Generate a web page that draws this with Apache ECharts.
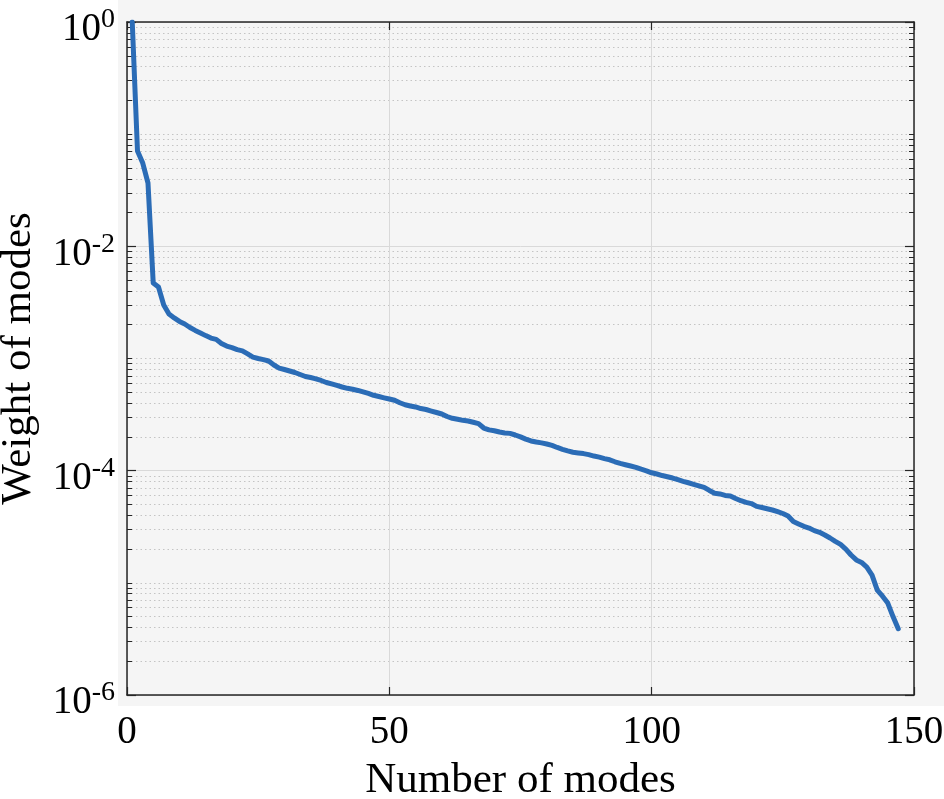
<!DOCTYPE html>
<html>
<head>
<meta charset="utf-8">
<script src="https://cdn.jsdelivr.net/npm/echarts@6/dist/echarts.min.js"></script>
<style>
  html, body { margin: 0; padding: 0; background: #fff; }
  #chart { width: 944px; height: 799px; }
</style>
</head>
<body>
<div id="chart"></div>
<script>
// weight of each mode, modes numbered 1..147
const weights = [
  1.0, 0.0708, 0.0553, 0.0367, 0.00471, 0.00434, 0.0030, 0.00249, 0.00230, 0.00214,
  0.00203, 0.00189, 0.00178, 0.00169, 0.00160, 0.00152, 0.00148, 0.00136, 0.00129, 0.00125,
  0.00120, 0.00117, 0.00110, 0.00103, 0.00100, 0.000976, 0.000950, 0.000875, 0.000822, 0.000798,
  0.000774, 0.000750, 0.000720, 0.000691, 0.000677, 0.000659, 0.000637, 0.000611, 0.000593, 0.000575,
  0.000557, 0.000542, 0.000532, 0.000519, 0.000503, 0.000488, 0.000470, 0.000458, 0.000446, 0.000435,
  0.000424, 0.000403, 0.000387, 0.000377, 0.000370, 0.000358, 0.000351, 0.000340, 0.000330, 0.000320,
  0.000304, 0.000293, 0.000287, 0.000281, 0.000277, 0.000270, 0.000263, 0.000240, 0.000231, 0.000227,
  0.000221, 0.000217, 0.000215, 0.000208, 0.000200, 0.000191, 0.000184, 0.000180, 0.000177, 0.000173,
  0.000168, 0.000161, 0.000155, 0.000150, 0.000146, 0.000144, 0.000142, 0.000139, 0.000135, 0.000132,
  0.000128, 0.000125, 0.000120, 0.000116, 0.000113, 0.000110, 0.000107, 0.000103, 0.0000997, 0.0000957,
  0.0000934, 0.0000905, 0.0000883, 0.0000860, 0.0000831, 0.0000804, 0.0000780, 0.0000756, 0.0000733, 0.0000711,
  0.0000666, 0.0000629, 0.0000620, 0.0000601, 0.0000595, 0.0000565, 0.0000540, 0.0000522, 0.0000509, 0.0000480,
  0.0000470, 0.0000458, 0.0000446, 0.0000431, 0.0000415, 0.0000394, 0.0000352, 0.0000335, 0.0000319, 0.0000308,
  0.0000292, 0.0000282, 0.0000267, 0.0000251, 0.0000234, 0.0000220, 0.0000200, 0.0000177, 0.0000160, 0.0000152,
  0.0000138, 0.0000117, 0.0000086, 0.0000076, 0.0000066, 0.0000050, 0.0000039
]
const xTicks = [0, 50, 100, 150]
const yExponents = [0, -2, -4, -6]
const minorDecades = [-6, -5, -4, -3, -2, -1]
const minorMults = [2, 3, 4, 5, 6, 7, 8, 9]

const majorVals = yExponents.map(e => Math.pow(10, e))
const minorVals = []
minorDecades.forEach(k => {
  if (k % 2 !== 0) minorVals.push(Math.pow(10, k))
  minorMults.forEach(m => minorVals.push(m * Math.pow(10, k)))
})
const points = weights.map((w, i) => [i + 1, w])

const FONT = '"Liberation Serif", "Times New Roman", serif'
const AXIS = '#262626'

const chart = echarts.init(document.getElementById('chart'), null, { renderer: 'canvas' })

function logAxis(pos, opts) {
  return Object.assign({
    type: 'log', logBase: 10, min: 1e-6, max: 1, position: pos,
    axisLine: { show: true, lineStyle: { color: AXIS, width: 1.5 } },
    axisLabel: { show: false },
    splitLine: { show: false },
    minorTick: { show: false },
    minorSplitLine: { show: false }
  }, opts)
}

chart.setOption({
  animation: false,
  backgroundColor: '#fff',
  graphic: [{
    type: 'rect', z: -10, silent: true,
    shape: { x: 118, y: 0, width: 826, height: 706 },
    style: { fill: '#f5f5f5' }
  }],
  grid: { left: 127, top: 22, right: 30, bottom: 104, containLabel: false, outerBoundsMode: 'none' },
  xAxis: [{
    type: 'value', min: 0, max: 150, interval: 50, position: 'bottom',
    name: 'Number of modes', nameLocation: 'middle', nameGap: 64,
    nameTextStyle: { fontFamily: FONT, fontSize: 43, color: '#000' },
    axisLine: { show: true, onZero: false, lineStyle: { color: AXIS, width: 1.5 } },
    axisTick: { show: true, inside: true, length: 8, lineStyle: { color: AXIS, width: 1.2 } },
    axisLabel: {
      show: true, margin: 18, fontFamily: FONT, fontSize: 39, color: '#000',
      showMinLabel: true, showMaxLabel: true,
      customValues: xTicks
    },
    splitLine: { show: true, lineStyle: { color: '#d9d9d9', width: 1 } }
  }, {
    type: 'value', min: 0, max: 150, interval: 50, position: 'top',
    axisLine: { show: true, onZero: false, lineStyle: { color: AXIS, width: 1.5 } },
    axisTick: { show: true, inside: true, length: 8, lineStyle: { color: AXIS, width: 1.2 } },
    axisLabel: { show: false },
    splitLine: { show: false }
  }],
  yAxis: [
    logAxis('left', {
      name: 'Weight of modes', nameLocation: 'middle', nameGap: 87,
      nameTextStyle: { fontFamily: FONT, fontSize: 43, color: '#000' },
      axisTick: { show: true, inside: true, length: 9, customValues: majorVals, lineStyle: { color: AXIS, width: 1.2 } },
      axisLabel: {
        show: true, margin: 12, customValues: majorVals,
        padding: [16, 0, 0, 0],
        formatter: v => {
          const e = Math.round(Math.log10(v))
          return '{b|10}{s|' + e + '}'
        },
        rich: {
          b: { fontFamily: FONT, fontSize: 39, color: '#000', lineHeight: 48 },
          s: { fontFamily: FONT, fontSize: 28, color: '#000', lineHeight: 20, verticalAlign: 'top' }
        }
      },
      splitLine: { show: true, lineStyle: { color: '#d9d9d9', width: 1 } }
    }),
    logAxis('left', {
      axisLine: { show: false },
      axisTick: { show: true, inside: true, length: 5, customValues: minorVals, lineStyle: { color: AXIS, width: 1 } },
      splitLine: { show: true, lineStyle: { color: '#c4c4c4', width: 1, type: [1.5, 3] } }
    }),
    logAxis('right', {
      axisTick: { show: true, inside: true, length: 9, customValues: majorVals, lineStyle: { color: AXIS, width: 1.2 } }
    }),
    logAxis('right', {
      axisLine: { show: false },
      axisTick: { show: true, inside: true, length: 5, customValues: minorVals, lineStyle: { color: AXIS, width: 1 } }
    })
  ],
  series: [{
    type: 'line',
    xAxisIndex: 0, yAxisIndex: 0,
    data: points,
    showSymbol: false,
    symbol: 'none',
    clip: true,
    lineStyle: { color: '#2b6cb6', width: 5, join: 'round', cap: 'round' },
    z: 5
  }]
})
</script>
</body>
</html>
